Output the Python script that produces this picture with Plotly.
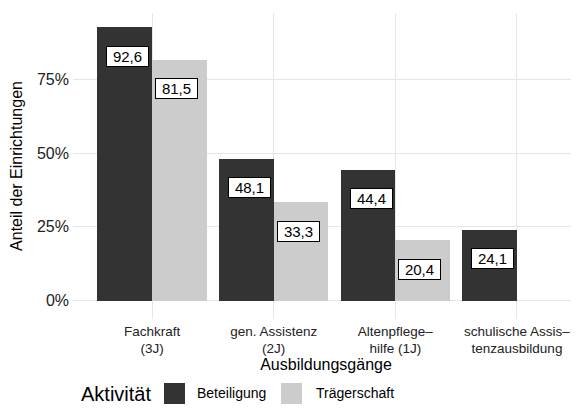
import plotly.graph_objects as go

# data
categories = ["Fachkraft<br>(3J)", "gen. Assistenz<br>(2J)", "Altenpflege–<br>hilfe (1J)",
              "schulische Assis–<br>tenzausbildung"]
beteiligung = [92.6, 48.1, 44.4, 24.1]
traegerschaft = [81.5, 33.3, 20.4, None]
series_names = ["Beteiligung", "Trägerschaft"]
y_ticks = [0, 25, 50, 75]

DARK = "#333333"
LIGHT = "#CCCCCC"
GRID = "#E6E6E6"
FONT = "Liberation Sans, Arial, sans-serif"

# the page body keeps its 8px default margin, so the figure starts at (8, 8)
OFF = 8
W, H = 579 - OFF, 412 - OFF
L, R, T, B = 73 - OFF, 0, 13 - OFF, 93
PW, PH = W - L - R, H - T - B

idx = list(range(len(categories)))
bar_w = 0.45
label_dodge = 0.2

fig = go.Figure()
for vals, name, color, sign in [(beteiligung, series_names[0], DARK, -1),
                                (traegerschaft, series_names[1], LIGHT, 1)]:
    xs = [i + sign * bar_w / 2 for i in idx]
    fig.add_trace(go.Bar(x=xs, y=vals, width=bar_w, name=name, marker=dict(color=color, line=dict(width=0)),
                         showlegend=False))
    for i, v in zip(idx, vals):
        if v is None:
            continue
        fig.add_annotation(x=i + sign * label_dodge, y=v, yshift=-29, text=f"{v:.1f}".replace(".", ","),
                           showarrow=False, font=dict(size=15, color="black", family=FONT),
                           bgcolor="white", bordercolor="black", borderwidth=1, borderpad=1,
                           width=39, height=17, align="center",
                           xanchor="center", yanchor="middle")

fig.update_layout(
    width=W, height=H,
    margin=dict(l=L, r=R, t=T, b=B),
    plot_bgcolor="white", paper_bgcolor="white",
    font=dict(family=FONT, color="black"),
    bargap=0,
)
fig.update_xaxes(range=[-0.65, 3.51], tickvals=idx, ticktext=categories, showgrid=True, gridcolor=GRID,
                 gridwidth=1, zeroline=False, showline=False, ticks="", automargin=False,
                 tickfont=dict(size=13.5, color="#222222"), ticklabelstandoff=2,
                 title=dict(text="Ausbildungsgänge", font=dict(size=16), standoff=2))
fig.update_yaxes(range=[-6.2, 97.4], tickvals=y_ticks, ticktext=[f"{t}%" for t in y_ticks],
                 showgrid=True, gridcolor=GRID, gridwidth=1, zeroline=False, showline=False, ticks="",
                 automargin=False, tickfont=dict(size=16, color="#222222"), ticklabelstandoff=3,
                 title=dict(text="Anteil der Einrichtungen", font=dict(size=16), standoff=10))


def px_x(x):
    return (x - OFF - L) / PW


def px_y(y):
    return (H - B - (y - OFF)) / PH


# legend drawn by hand to match the big square keys
fig.add_annotation(xref="paper", yref="paper", x=px_x(79), y=px_y(394), text="Aktivität", showarrow=False,
                   font=dict(size=20), xanchor="left", yanchor="middle")
keys = [(series_names[0], DARK, 164, 195), (series_names[1], LIGHT, 281, 314)]
for name, color, kx, tx in keys:
    fig.add_shape(type="rect", xref="paper", yref="paper",
                  x0=px_x(kx), x1=px_x(kx + 21), y0=px_y(404), y1=px_y(383),
                  fillcolor=color, line=dict(width=0))
    fig.add_annotation(xref="paper", yref="paper", x=px_x(tx), y=px_y(393), text=name,
                       showarrow=False, font=dict(size=14), xanchor="left", yanchor="middle")

fig.write_html("out.html")
